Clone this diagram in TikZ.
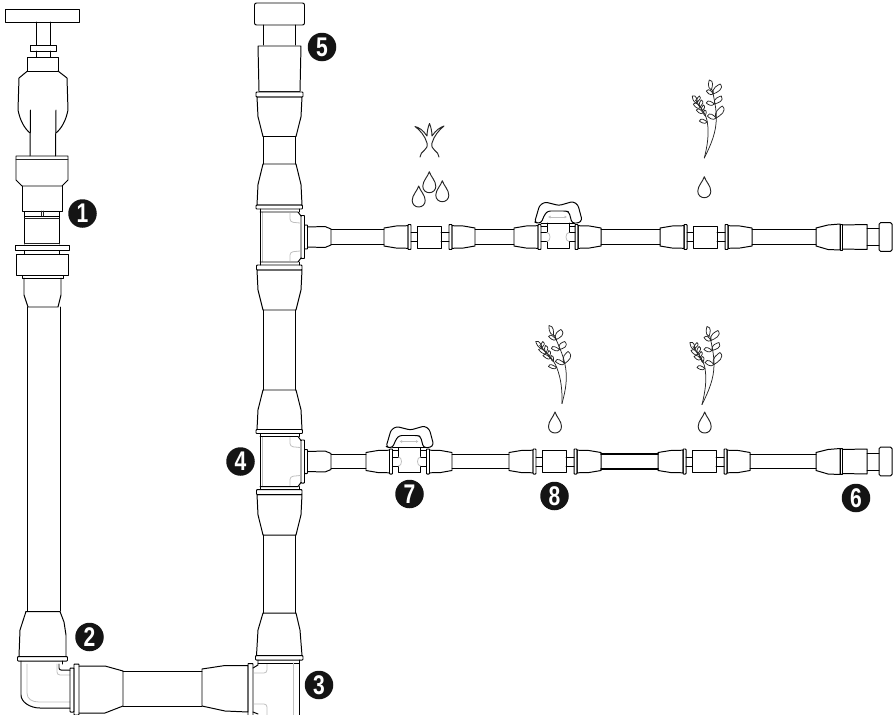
\documentclass[tikz,border=0pt]{standalone}
\usepackage{fontspec}
\setmainfont{Liberation Sans}
\usetikzlibrary{calc,arrows.meta}
\tikzset{
  ln/.style={line width=.99pt,line join=round,line cap=round,draw=black},
  thn/.style={line width=.75pt,line join=round,line cap=round,draw=black!85},
  gry/.style={line width=.8pt,line cap=round,draw=black!25},
  badge/.style={circle,fill=black!92,text=white,minimum size=28.5pt,inner sep=0pt,font=\fontsize{27}{27}\selectfont\bfseries}
}
\newcommand\hpipe[4][ln]{\draw[#1] (#2,#4-7.3)--(#3,#4-7.3) (#2,#4+7.3)--(#3,#4+7.3);}
\newcommand\hcol[3]{\draw[ln] (#1,#3-9)--({#1+.5*(#2-#1)},#3-11)--(#2,#3-11.3)--(#2,#3+11.3)--({#1+.5*(#2-#1)},#3+11)--(#1,#3+9)--cycle;}
\newcommand\hring[3]{\draw[ln,rounded corners=.6pt] (#1,#3-12.5) rectangle (#2,#3+12.5);}
\newcommand\hunit[2]{\hring{#1}{#1+3}{#2}
  \draw[ln] (#1+3,#2-4.5)--(#1+9,#2-4.5) (#1+3,#2+4.5)--(#1+9,#2+4.5);
  \draw[ln] (#1+9,#2-11) rectangle (#1+33,#2+11);
  \draw[ln] (#1+33,#2-4.5)--(#1+41,#2-4.5) (#1+33,#2+4.5)--(#1+41,#2+4.5);
  \hring{#1+41}{#1+44}{#2}}
\newcommand\hvalve[2]{%
  \hring{#1-20}{#1-17}{#2}\hring{#1+17}{#1+20}{#2}
  \draw[ln,rounded corners=2.5pt] (#1-23.3,#2-15)--(#1-18.5,#2-31.5)--(#1-13,#2-35)--(#1+1,#2-31.5)--(#1+15,#2-35.5)--(#1+20,#2-32)--(#1+24,#2-17)--(#1+21,#2-14)--(#1+14,#2-14)--(#1+11,#2-25)--(#1+8,#2-26)--(#1-10,#2-26)--(#1-13,#2-23)--(#1-17,#2-14)--(#1-21,#2-14)--cycle;
  \draw[ln] (#1-17,#2-14)--(#1+17,#2-14);
  \draw[{Latex[length=2.5pt,width=3pt]}-{Latex[length=2.5pt,width=3pt]},gry] (#1-10,#2-20)--(#1+9,#2-20);
  \draw[ln] (#1-17,#2-11)--(#1-11,#2-11)--(#1-11,#2-4.5)--(#1-17,#2-4.5);
  \draw[ln] (#1+17,#2-11)--(#1+11,#2-11)--(#1+11,#2-4.5)--(#1+17,#2-4.5);
  \draw[ln] (#1-11,#2-14)--(#1-11,#2-11) (#1+11,#2-14)--(#1+11,#2-11);
  \draw[ln] (#1-17,#2+4.5)--(#1-11,#2+4.5)--(#1-11,#2+11)--(#1+11,#2+11)--(#1+11,#2+4.5)--(#1+17,#2+4.5);
  \draw[gry] (#1-11,#2-4.5) .. controls (#1-7,#2-4.5) and (#1-7,#2+4.5) .. (#1-11,#2+4.5);
  \draw[gry] (#1+11,#2-4.5) .. controls (#1+7,#2-4.5) and (#1+7,#2+4.5) .. (#1+11,#2+4.5);}
\newcommand\hend[1]{
  \draw[ln] (816,#1-9)--(828,#1-12)--(840,#1-13)--(840,#1+13)--(828,#1+12.5)--(816,#1+9)--cycle;
  \draw[ln] (840,#1-13) rectangle (842,#1+13);
  \draw[ln] (842,#1-12)--(867,#1-12.5)--(867,#1+12.5)--(842,#1+12);
  \draw[ln] (867,#1-8.5)--(879,#1-8.5) (867,#1+8.5)--(879,#1+8.5);
  \draw[ln,rounded corners=1.5pt] (879,#1-14.3) rectangle (892,#1+14.3);}
\newcommand\mytee[1]{
  \draw[ln] (260,#1-25)--(260,#1+25);
  \draw[gry] (262.5,#1-25)--(262.5,#1+25);
  \draw[ln] (260,#1-25)--(298,#1-25)--(301,#1-21);
  \draw[ln] (260,#1+25)--(298,#1+25)--(301,#1+21);
  \draw[ln,rounded corners=.6pt] (301,#1-21.5) rectangle (304.5,#1+21.5);
  \draw[ln,rounded corners=.6pt] (304.5,#1-12) rectangle (307.5,#1+12);
  \draw[gry,rounded corners=3pt] (290,#1-24)--(290,#1-15)--(300,#1-14);
  \draw[gry,rounded corners=3pt] (290,#1+24)--(290,#1+15)--(300,#1+14);
  \draw[ln] (307.5,#1-10)--(325,#1-10.5)--(331,#1-8)--(331,#1+8)--(325,#1+10.5)--(307.5,#1+10);
  \draw[ln,rounded corners=.8pt] (256,#1-32) rectangle (302.5,#1-28);
  \draw[ln] (260,#1-28)--(260,#1-25) (299,#1-28)--(299,#1-25);
  \draw[ln,rounded corners=.8pt] (256.5,#1+28) rectangle (302,#1+33);
  \draw[ln] (260,#1+25)--(260,#1+28) (299,#1+25)--(299,#1+28);}
\newcommand\vcol[2]{\draw[ln] (263,#1)--(258,{#1+.5*(#2-#1)})--(257,#2)--(302,#2)--(301,{#1+.5*(#2-#1)})--(296,#1)--cycle;}
\newcommand\vpipe[2]{\draw[ln] (263.5,#1)--(263.5,#2) (295.5,#1)--(295.5,#2);}
\newcommand\mydrop[2]{\draw[thn,line width=.95pt] (#1,#2) .. controls (#1-1.5,#2+5) and (#1-6.5,#2+9) .. (#1-6.5,#2+14.5) .. controls (#1-6.5,#2+18.5) and (#1-3.5,#2+21) .. (#1,#2+21) .. controls (#1+3.5,#2+21) and (#1+6.5,#2+18.5) .. (#1+6.5,#2+14.5) .. controls (#1+6.5,#2+9) and (#1+1.5,#2+5) .. (#1,#2) -- cycle;}
\newcommand\plant[3]{%
 \begin{scope}[shift={(#1,#2)},cm={1,0,#3,1,(0,0)}]
  \draw[thn] (0,0) .. controls (7,-14) and (12,-26) .. (12,-40) .. controls (12,-50) and (10,-58) .. (8,-68);
  \draw[thn] (0,0) .. controls (3,-12) and (5,-24) .. (3,-36) .. controls (2,-43) and (-3,-50) .. (-9,-58);
  \foreach \bx/\by/\tx/\ty/\w in {12/-40/18/-52/.6, 12/-40/3/-42/.65, 10/-54/2/-55/.65, 10/-54/17/-62/.65, 9/-64/2/-67/.65, 9/-64/16/-74/.6, 7/-68/5/-78/.55,
     3/-36/-5/-37/.6, 1/-42/0/-48/.6, -1/-45/-8/-48/.6, -2/-47/-1/-53/.6, -4/-50/-11/-54/.6, -4/-51/-3/-58/.6, -7/-55/-12/-62/.6, -7/-56/-5/-62/.6}{
   \draw[thn] (\bx,\by) .. controls ($(\bx,\by)!.3!(\tx,\ty)!\w!90:(\tx,\ty)$) and ($(\bx,\by)!.85!(\tx,\ty)!\w!90:(\tx,\ty)$) .. (\tx,\ty)
     .. controls ($(\tx,\ty)!.15!(\bx,\by)!\w!90:(\bx,\by)$) and ($(\tx,\ty)!.7!(\bx,\by)!\w!90:(\bx,\by)$) .. (\bx,\by);
  }
 \end{scope}}
\begin{document}
\begin{tikzpicture}[x=1pt,y=-1pt]
\useasboundingbox (0,0) rectangle (895,715);
\clip (0,0) rectangle (895,715);
\draw[ln] (5.5,9) rectangle (79,22);
\draw[ln] (36,22)--(36,45) (50.5,22)--(50.5,45);
\draw[ln] (30,45) rectangle (56.5,51);
\draw[ln] (36,51)--(36,57) (50.5,51)--(50.5,57);
\draw[ln] (27.5,57) rectangle (58,71);
\draw[ln] (27.5,71)--(19,78)--(18,110) .. controls (20,120) and (24,128) .. (30,133);
\draw[ln] (58,71)--(67,78)--(68,110) .. controls (66,120) and (62,128) .. (56,133);
\draw[ln] (30.5,110)--(30,156) (56,110)--(55.5,156);
\draw[ln] (16,156)--(68,156)--(68,180)--(62,186)--(22,186)--(16,180)--cycle;
\draw[thn] (16,159)--(68,159);
\draw[ln] (22.5,186)--(22.5,211)--(62,211)--(62,186);
\draw[ln] (24.5,211) rectangle (59.5,216);
\draw[thn] (41,211)--(41,216) (43,211)--(43,216);
\draw[ln] (24.5,216)--(24.5,244) (59.5,216)--(59.5,244);
\draw[thn] (24.5,218)--(59.5,218) (24.5,243)--(59.5,243);
\draw[ln] (15.5,245.5) rectangle (69,250.5);
\draw[ln] (24.5,250.5)--(24.5,254) (59.5,250.5)--(59.5,254);
\draw[ln] (16.5,254) rectangle (68,275);
\draw[ln] (22,275) rectangle (63,278);
\draw[ln] (24,278)--(24,295)--(28,307)--(58,307)--(61,295)--(61,278);
\draw[ln] (27,307)--(27,611) (60,307)--(60,611);
\draw[ln] (26,611.5)--(60,611.5)--(64,622)--(66,635)--(66,656);
\draw[ln] (26,611.5)--(20,630)--(19,656);
\draw[ln,rounded corners=.8pt] (17.5,656.5) rectangle (67.5,661);
\draw[ln] (21,661)--(21,695) .. controls (21,702) and (30,708) .. (40,708)--(70,708);
\draw[ln] (62,661)--(62,664);
\draw[gry] (27,664)--(27,693) .. controls (27,699) and (32,702) .. (39,702)--(70,702);
\draw[gry,rounded corners=3pt] (57,664)--(57,675)--(70,675);
\draw[ln,rounded corners=2pt] (59,664)--(59,670)--(70,670);
\draw[ln,rounded corners=.6pt] (70,668) rectangle (74,712);
\draw[ln,rounded corners=.6pt] (74,664) rectangle (79,715);
\draw[ln] (79,666)--(105,666)--(123,671)--(123,706)--(105,713)--(79,713);
\draw[ln] (123,671.5)--(202,671.5) (123,706)--(202,706);
\draw[ln] (202,669)--(225,665.5)--(248,665.5)--(248,712)--(225,711)--(202,706)--cycle;
\draw[ln,rounded corners=.6pt] (248,663.5) rectangle (253,716);
\draw[ln] (253,668)--(258,665)--(258,660);
\draw[gry,rounded corners=3pt] (254,673)--(267,673)--(267,664);
\draw[gry,rounded corners=3pt] (254,704)--(267,704)--(267,715);
\draw[ln] (253,712)--(258,714);
\draw[ln,rounded corners=2pt] (254.5,3) rectangle (304.5,25);
\draw[ln] (263.5,25)--(263.5,45) (295.5,25)--(295.5,45);
\draw[ln] (258,46)--(259,91) (301,46)--(300,91) (258,46)--(301,46);
\draw[thn] (259,91)--(300,91);
\draw[ln,rounded corners=.8pt] (256,92) rectangle (303,97);
\vcol{136.5}{97}
\vpipe{136.5}{164}
\vcol{164}{205}
\mytee{237}
\vcol{310}{270}
\vpipe{310}{390}
\vcol{390}{429.5}
\mytee{461.5}
\vcol{535}{494.5}
\vpipe{535}{613}
\draw[ln] (263,613)--(296,613)--(300,630)--(302,655.5) (263,613)--(258,630)--(256.5,655.5);
\draw[ln,rounded corners=.8pt] (255.5,655.5) rectangle (303,660);
\draw[ln] (299,660)--(299,715);
\draw[ln] (258,663)--(299,663);
\draw[gry] (293,663)--(293,715);
\hpipe{331}{384}{237}
\hcol{384}{408}{237}\hunit{408}{237}\hcol{475}{452}{237}
\hpipe{475}{514}{237}
\hcol{514}{538}{237}\hvalve{558}{237}\hcol{601}{578}{237}
\hpipe{601}{660}{237}
\hcol{660}{684}{237}\hunit{684}{237}\hcol{752}{728}{237}
\hpipe{752}{816}{237}
\hend{237}
\hpipe{331}{366}{461.5}
\hcol{366}{389.5}{461.5}\hvalve{409.5}{461.5}\hcol{452}{429.5}{461.5}
\hpipe{452}{509}{461.5}
\hcol{509}{533}{461.5}\hunit{533}{461.5}\hcol{601}{577}{461.5}
\hpipe[ln,line width=2pt]{601}{658}{461.5}
\hcol{658}{683}{461.5}\hunit{683}{461.5}\hcol{750}{727}{461.5}
\hpipe{750}{816}{461.5}
\hend{461.5}
\draw[thn,line width=.95pt] (420,157) .. controls (420,151) and (429,150) .. (427,143) .. controls (425,136) and (420,130) .. (415,126.5) .. controls (419,127.5) and (423,130) .. (427,136) .. controls (427,132) and (428,127) .. (429.5,123.5) .. controls (431,127) and (432,132) .. (432,136) .. controls (436,130) and (440,127.5) .. (444,126) .. controls (439,130) and (434,136) .. (432,143) .. controls (430,150) and (439,151) .. (439,157);
\mydrop{418.7}{186}\mydrop{429.3}{171.7}\mydrop{442.3}{180.7}
\plant{704.3}{158}{0}\mydrop{704.3}{176.7}
\plant{562}{403.5}{-.23}\mydrop{555}{412}
\plant{702}{404.5}{0}\mydrop{704.7}{412}
\node[badge] (b1) at (82.5,213.5) {\scalebox{.78}[1]{1}};
\node[badge] (b2) at (89.5,637) {\scalebox{.78}[1]{2}};
\node[badge] (b3) at (319,685) {\scalebox{.78}[1]{3}};
\node[badge] (b4) at (240.5,461.5) {\scalebox{.78}[1]{4}};
\node[badge] (b5) at (322,47) {\scalebox{.78}[1]{5}};
\node[badge] (b6) at (856,498) {\scalebox{.78}[1]{6}};
\node[badge] (b7) at (409.5,494) {\scalebox{.78}[1]{7}};
\node[badge] (b8) at (554.5,496) {\scalebox{.78}[1]{8}};
\end{tikzpicture}
\end{document}
